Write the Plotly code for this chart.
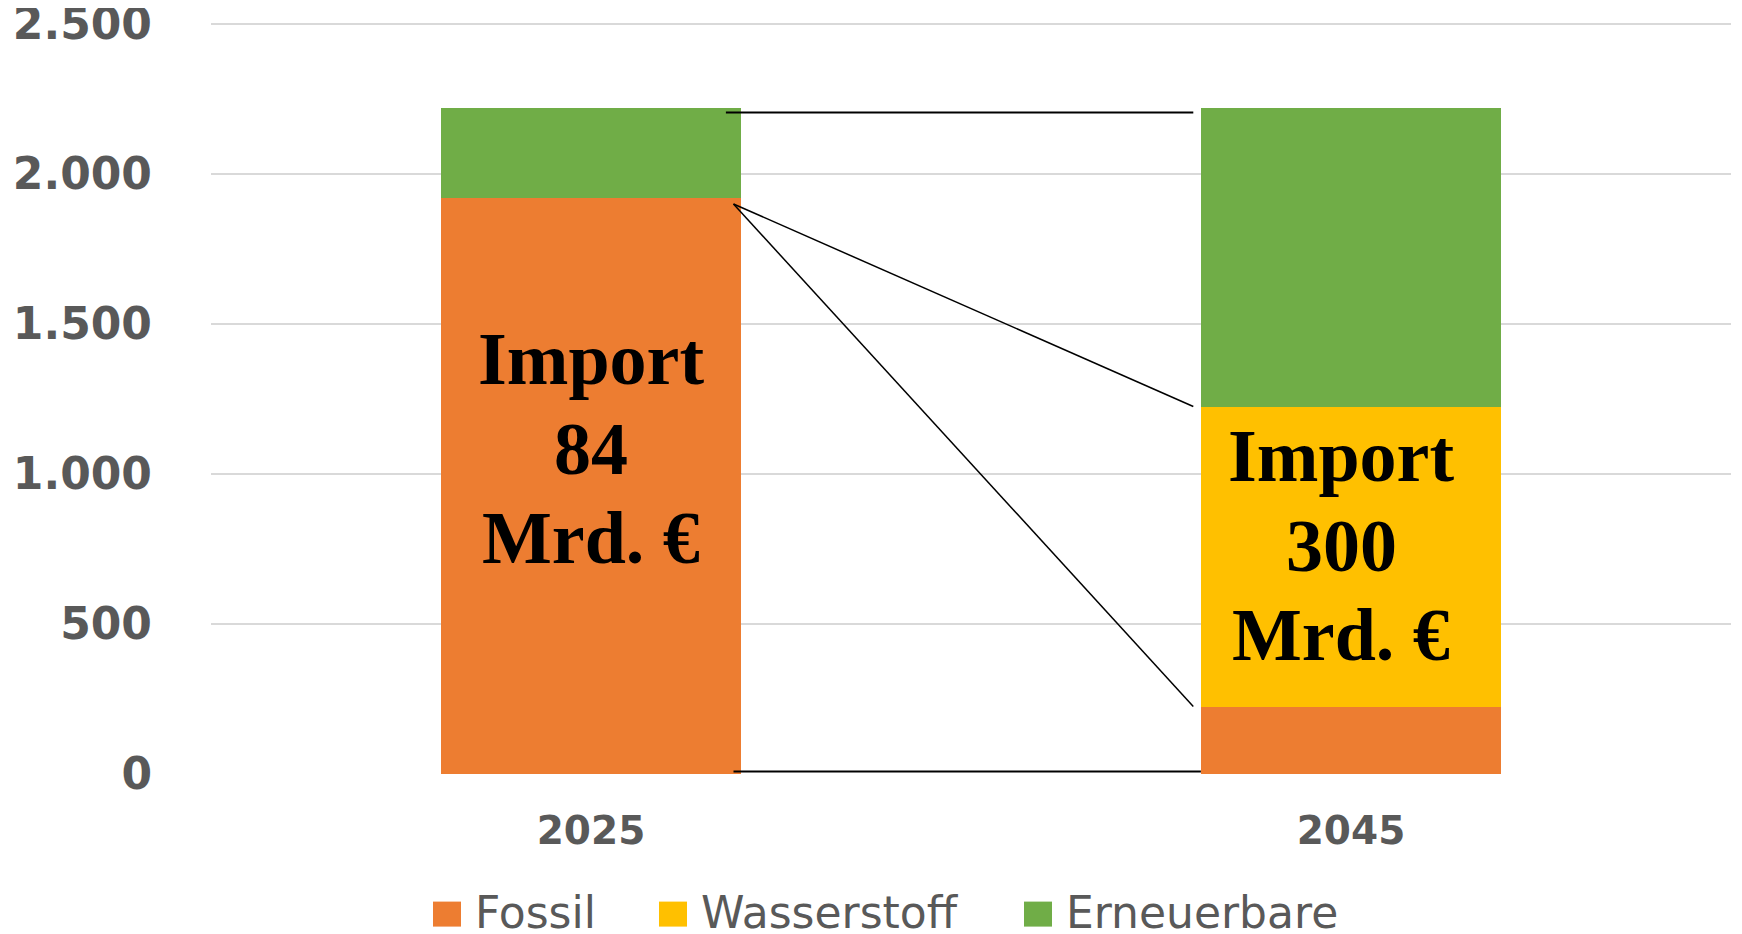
import plotly.graph_objects as go

# ---- data ----
years = ["2025", "2045"]
series_names = ["Fossil", "Wasserstoff", "Erneuerbare"]
fossil = [1920, 225]
wasserstoff = [0, 1000]
erneuerbare = [300, 995]
series_colors = ["#ED7D31", "#FFC000", "#70AD47"]
label_lines = [["Import", "84", "Mrd. €"], ["Import", "300", "Mrd. €"]]
y_ticks = [0, 500, 1000, 1500, 2000, 2500]

# ---- layout constants ----
W, H = 1734, 926            # page body adds an 8px offset
bargap = 0.605
half_w = (1 - bargap) / 2
label_y = [1085, 761]
label_xshift = [0, -10]
line_px = 89.6
grey = "#595959"
PLOT_L, PLOT_W = 211, 1520    # screen px
PLOT_B, PLOT_H = 774.4, 753   # screen px
Y_MAX = 2510

values = [fossil, wasserstoff, erneuerbare]

fig = go.Figure()
for name, vals, col in zip(series_names, values, series_colors):
    fig.add_trace(go.Bar(x=years, y=vals, name=name, marker=dict(color=col, line=dict(width=0)),
                         showlegend=False))

# connector lines derived from data
tot0 = fossil[0] + wasserstoff[0] + erneuerbare[0]
xa, xb = 0 + half_w - 0.01, 1 - half_w
line_style = dict(color="black", width=2)
fig.add_shape(type="line", xref="x", yref="y", x0=xa - 0.01, x1=xb - 0.01, y0=tot0 - 15, y1=tot0 - 15, line=line_style)
fig.add_shape(type="line", xref="x", yref="y", x0=xa, x1=xb - 0.01, y0=fossil[0] - 20,
              y1=fossil[1] + wasserstoff[1], line=dict(color="black", width=1.5))
fig.add_shape(type="line", xref="x", yref="y", x0=xa, x1=xb - 0.01, y0=fossil[0] - 20,
              y1=fossil[1], line=dict(color="black", width=1.5))
fig.add_shape(type="line", xref="x", yref="y", x0=xa, x1=xb, y0=8, y1=8, line=line_style)

# in-bar labels (one annotation per line for exact spacing)
for i, lines in enumerate(label_lines):
    for k, t in enumerate(lines):
        fig.add_annotation(x=i, y=label_y[i], xref="x", yref="y", text=t, showarrow=False,
                           xshift=label_xshift[i], yshift=(1 - k) * line_px, yanchor="middle",
                           font=dict(family="Liberation Serif", size=74, color="black", weight="bold"))

# custom legend
legend_sq_x = [433, 659, 1024]
for name, col, sx in zip(series_names, series_colors, legend_sq_x):
    fig.add_shape(type="rect", xref="paper", yref="paper",
                  x0=(sx - PLOT_L) / PLOT_W, x1=(sx + 28 - PLOT_L) / PLOT_W,
                  y0=(PLOT_B - 927) / PLOT_H, y1=(PLOT_B - 902) / PLOT_H,
                  fillcolor=col, line=dict(width=0))
    fig.add_annotation(xref="paper", yref="paper", x=(sx + 40 - PLOT_L) / PLOT_W,
                       y=(PLOT_B - 913) / PLOT_H,
                       xanchor="left", yanchor="middle", text=name, showarrow=False,
                       font=dict(family="DejaVu Sans", size=44, color=grey))

fig.update_layout(
    width=W, height=H,
    barmode="stack", bargap=bargap,
    plot_bgcolor="white", paper_bgcolor="white",
    margin=dict(l=PLOT_L - 8, r=11, t=13, b=160, autoexpand=False),
    separators=",.",
    showlegend=False,
)
fig.update_yaxes(range=[0, Y_MAX], tickvals=y_ticks, tickformat=",d", automargin=False,
                 showgrid=True, gridcolor="#D9D9D9", gridwidth=2,
                 zeroline=False, showline=False, ticks="",
                 ticklabelstandoff=58, ticklabeloverflow="allow",
                 tickfont=dict(family="DejaVu Sans", size=44, color=grey, weight="bold"))
fig.update_xaxes(type="category", automargin=False, showgrid=False, showline=False, ticks="",
                 ticklabelstandoff=30,
                 tickfont=dict(family="DejaVu Sans", size=39, color=grey, weight="bold"))

fig.write_html("out.html")
